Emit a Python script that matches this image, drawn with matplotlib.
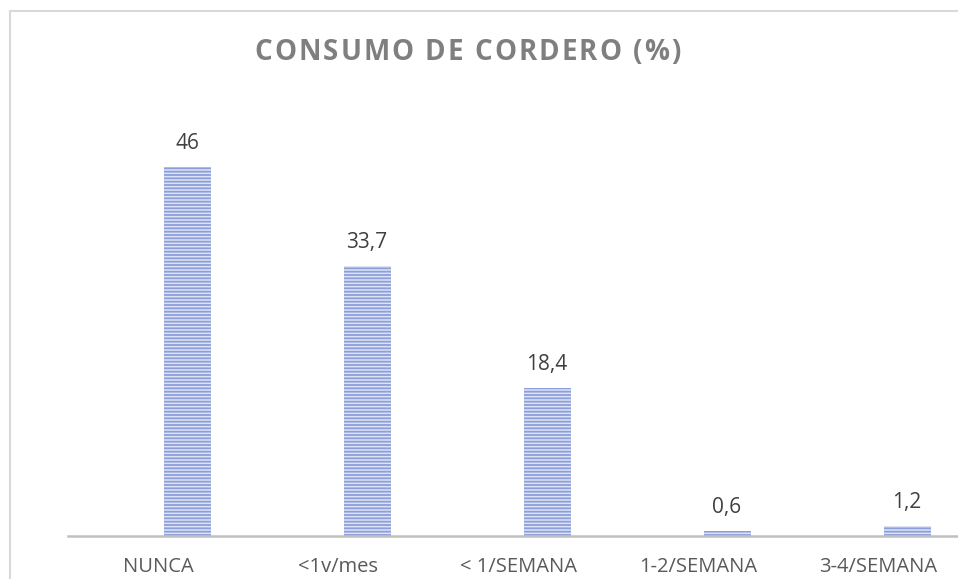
import matplotlib.pyplot as plt
from matplotlib.lines import Line2D
import numpy as np

categories = ['NUNCA', '<1v/mes', '< 1/SEMANA', '1-2/SEMANA', '3-4/SEMANA']
values = [46, 33.7, 18.4, 0.6, 1.2]
value_labels = ['46', '33,7', '18,4', '0,6', '1,2']
title = 'CONSUMO DE CORDERO (%)'

plt.rcParams['font.family'] = ['Open Sans', 'DejaVu Sans']
plt.rcParams['hatch.linewidth'] = 1.3

W, H = 958, 579
fig = plt.figure(figsize=(W / 100, H / 100), dpi=100)

# plot area: axis line at y=536 px, category slots 180 px wide from x=68
ax = fig.add_axes([68 / W, (H - 536) / H, 900 / W, 50 * 8.02 / H])
x = np.arange(len(categories))
bar_x = x + 29 / 180
ax.bar(bar_x, values, width=47 / 180, color='#dde3f5', edgecolor='#8c9fda',
       linewidth=0, hatch='-----')

for bx, v, lab in zip(bar_x, values, value_labels):
    ax.annotate(lab, (bx, v), xytext=(0, 13), textcoords='offset points',
                ha='center', va='baseline', fontsize=15, color='#404040')

ax.set_xlim(-0.5, 4.5)
ax.set_ylim(0, 50)
ax.set_xticks(x)
ax.set_xticklabels(categories, fontsize=14.5, color='#595959')
ax.tick_params(axis='x', length=0, pad=15)
ax.set_yticks([])
for s in ['top', 'right', 'left']:
    ax.spines[s].set_visible(False)
ax.spines['bottom'].set_color('#c0c0c0')
ax.spines['bottom'].set_linewidth(1.8)

# chart border (cropped on right and bottom)
fig.add_artist(Line2D([10 / W, 10 / W], [0, 1 - 11 / H], transform=fig.transFigure,
                      color='#d9d9d9', lw=1.5))
fig.add_artist(Line2D([10 / W, 1], [1 - 11 / H, 1 - 11 / H], transform=fig.transFigure,
                      color='#d9d9d9', lw=1.5))

# title with letter spacing, drawn char by char
fig.canvas.draw()
renderer = fig.canvas.get_renderer()
tracking = 2.0  # px between letters
title_size = 20
widths = []
chars = []
for ch in title:
    t = fig.text(0, 0, ch, fontsize=title_size, fontweight='bold', color='#7f7f7f',
                 ha='left', va='baseline')
    widths.append(t.get_window_extent(renderer).width if ch != ' ' else 0)
    chars.append(t)
probe = fig.text(0, 0, 'n', fontsize=title_size, fontweight='bold')
space_w = probe.get_window_extent(renderer).width * 0.4
probe.remove()
widths = [w if ch != ' ' else space_w for w, ch in zip(widths, title)]
total = sum(widths) + tracking * (len(title) - 1)
xpos = 467.5 - total / 2
for t, w in zip(chars, widths):
    t.set_position((xpos / W, 1 - 60 / H))
    xpos += w + tracking

fig.savefig('out.png', dpi=100)
